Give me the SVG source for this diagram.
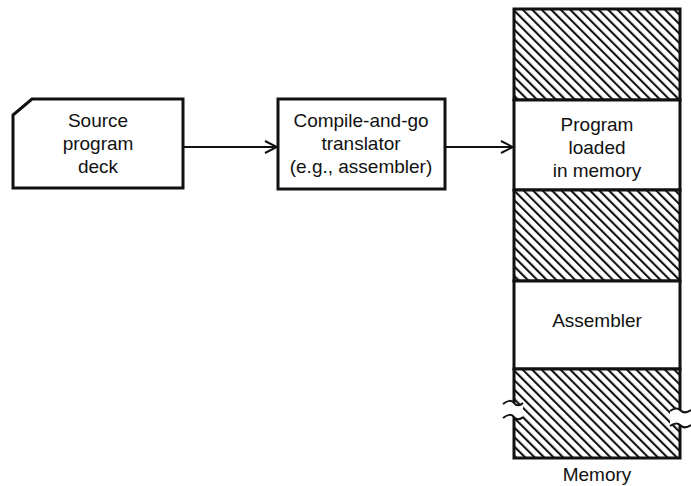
<svg xmlns="http://www.w3.org/2000/svg" width="691" height="486" viewBox="0 0 691 486">
<style>
.box{fill:#fff;stroke:#111;stroke-width:3}
.t{font-family:"Liberation Sans",Arial,sans-serif;font-size:19px;fill:#111;text-anchor:middle}
.conn{stroke:#111;stroke-width:2;fill:none}
.hatch{fill:url(#hatch);stroke:#111;stroke-width:3}
.brk{fill:#fff;stroke:#111;stroke-width:2}
</style>
<defs>
<pattern id="hatch" patternUnits="userSpaceOnUse" width="6.7" height="10" patternTransform="rotate(-45)">
<rect width="6.7" height="10" fill="#fff"/>
<line x1="1" y1="0" x2="1" y2="10" stroke="#111" stroke-width="2.2"/>
</pattern>
<marker id="arr" markerWidth="14" markerHeight="14" refX="13" refY="7" orient="auto" markerUnits="userSpaceOnUse">
<path d="M1,1 L13,7 L1,13" fill="none" stroke="#111" stroke-width="2"/>
</marker>
</defs>
<rect width="691" height="486" fill="#fff"/>
<g id="connectors">
<line class="conn" x1="183" y1="147" x2="277" y2="147" marker-end="url(#arr)"/>
<line class="conn" x1="445" y1="147" x2="513" y2="147" marker-end="url(#arr)"/>
</g>
<g id="source-deck">
<polygon class="box" points="32,99 183,99 183,188 13,188 13,115"/>
<text class="t" x="98" y="127">Source</text>
<text class="t" x="98" y="150">program</text>
<text class="t" x="98" y="173">deck</text>
</g>
<g id="translator">
<rect class="box" x="278" y="99" width="167" height="90"/>
<text class="t" x="361" y="127">Compile-and-go</text>
<text class="t" x="361" y="150">translator</text>
<text class="t" x="361" y="173">(e.g., assembler)</text>
</g>
<g id="memory">
<rect class="hatch" x="514" y="9" width="166" height="91"/>
<rect class="box" x="514" y="100" width="166" height="90"/>
<rect class="hatch" x="514" y="190" width="166" height="91"/>
<rect class="box" x="514" y="281" width="166" height="88"/>
<rect class="hatch" x="514" y="369" width="166" height="89"/>
<text class="t" x="597" y="131">Program</text>
<text class="t" x="597" y="154">loaded</text>
<text class="t" x="597" y="177">in memory</text>
<text class="t" x="597" y="327">Assembler</text>
<text class="t" x="597" y="481">Memory</text>
</g>
<g id="breaks">
<path d="M503,404 C508,400 512,400 514,403 C516,406 520,406 523,403 L523,417 C520,420 516,420 514,417 C512,414 508,414 503,418 Z" fill="#fff" stroke="none"/>
<path class="conn" d="M503,404 C508,400 512,400 514,403 C516,406 520,406 523,403"/>
<path class="conn" d="M503,418 C508,414 512,414 514,417 C516,420 520,420 523,417"/>
<path d="M670,411 C674,408 678,408 680,410 C683,413 687,413 691,410 L691,425 C687,428 683,428 680,425 C678,423 674,423 670,426 Z" fill="#fff" stroke="none"/>
<path class="conn" d="M670,411 C674,408 678,408 680,410 C683,413 687,413 691,410"/>
<path class="conn" d="M670,426 C674,423 678,423 680,425 C683,428 687,428 691,425"/>
</g>
</svg>
